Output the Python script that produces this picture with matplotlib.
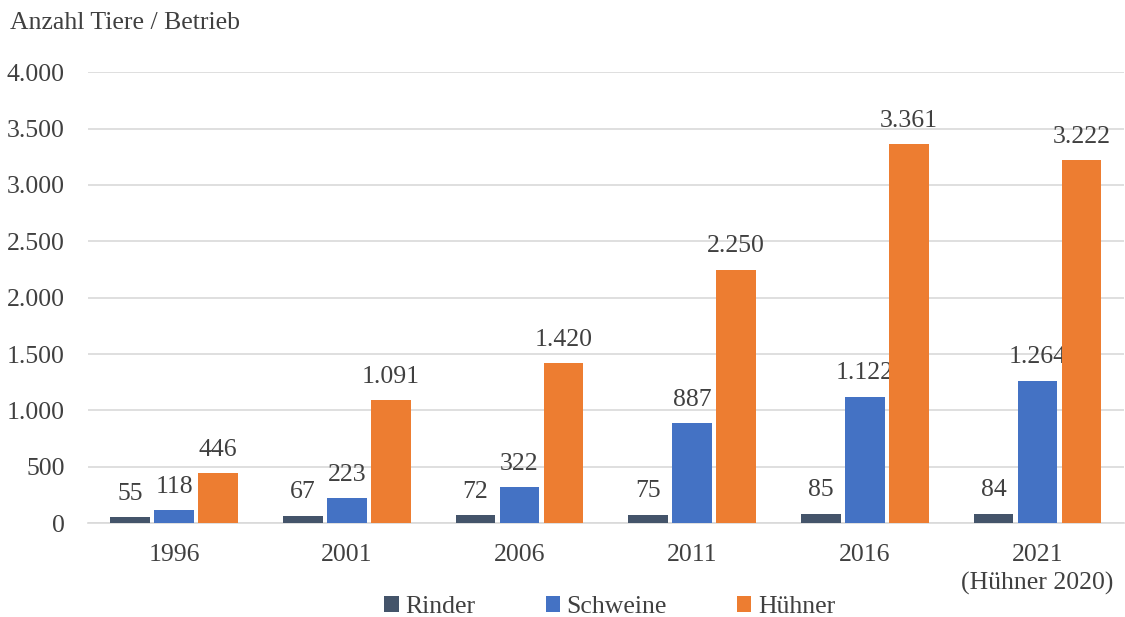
import matplotlib

matplotlib.use("Agg")
import matplotlib.pyplot as plt
import numpy as np

TEXT = "#404040"
GRID = "#D9D9D9"

years = ["1996", "2001", "2006", "2011", "2016", "2021\n(Hühner 2020)"]
rinder = [55, 67, 72, 75, 85, 84]
schweine = [118, 223, 322, 887, 1122, 1264]
huehner = [446, 1091, 1420, 2250, 3361, 3222]

series = [
    ("Rinder", rinder, "#44546A"),
    ("Schweine", schweine, "#4472C4"),
    ("Hühner", huehner, "#ED7D31"),
]

FS = 18.5

plt.rcParams.update({
    "font.family": ["Liberation Serif", "DejaVu Serif"],
    "text.color": TEXT,
    "xtick.color": TEXT,
    "ytick.color": TEXT,
})


def de_fmt(v):
    return f"{v:,.0f}".replace(",", ".")


fig = plt.figure(figsize=(11.25, 6.17), dpi=100)
ax = fig.add_axes([0.078, 0.152, 0.921, 0.731])

x = np.arange(len(years))
w = 0.23
offs = [-0.255, 0.0, 0.255]
for (name, vals, col), off in zip(series, offs):
    bars = ax.bar(x + off, vals, width=w, color=col, label=name, zorder=3)
    for b, v in zip(bars, vals):
        ax.annotate(de_fmt(v), (b.get_x() + b.get_width() / 2, v),
                    xytext=(0, 12.5), textcoords="offset points",
                    ha="center", va="baseline", fontsize=FS, color=TEXT)

ax.set_xlim(-0.5, len(years) - 0.5)
ax.set_ylim(0, 4000)
ax.set_yticks(range(0, 4001, 500))
ax.set_yticklabels([de_fmt(v) for v in range(0, 4001, 500)], fontsize=FS)
ax.set_xticks(x)
ax.set_xticklabels(years, fontsize=FS, linespacing=1.35)
ax.tick_params(axis="both", length=0)
ax.tick_params(axis="y", pad=16.5)
ax.tick_params(axis="x", pad=15)
ax.yaxis.grid(True, color=GRID, linewidth=1.2, zorder=0)
ax.set_axisbelow(True)
for s in ["top", "right", "left"]:
    ax.spines[s].set_visible(False)
ax.spines["bottom"].set_color(GRID)
ax.spines["bottom"].set_linewidth(1.2)

fig.text(0.009, 0.962, "Anzahl Tiere / Betrieb", fontsize=FS, color=TEXT,
         ha="left", va="center")

fig.legend(loc="center", bbox_to_anchor=(0.542, 0.016), ncol=3, frameon=False,
           fontsize=FS, handlelength=0.55, handleheight=0.55, handletextpad=0.25,
           columnspacing=2.75)

fig.savefig("out.png", dpi=100, facecolor="white")
